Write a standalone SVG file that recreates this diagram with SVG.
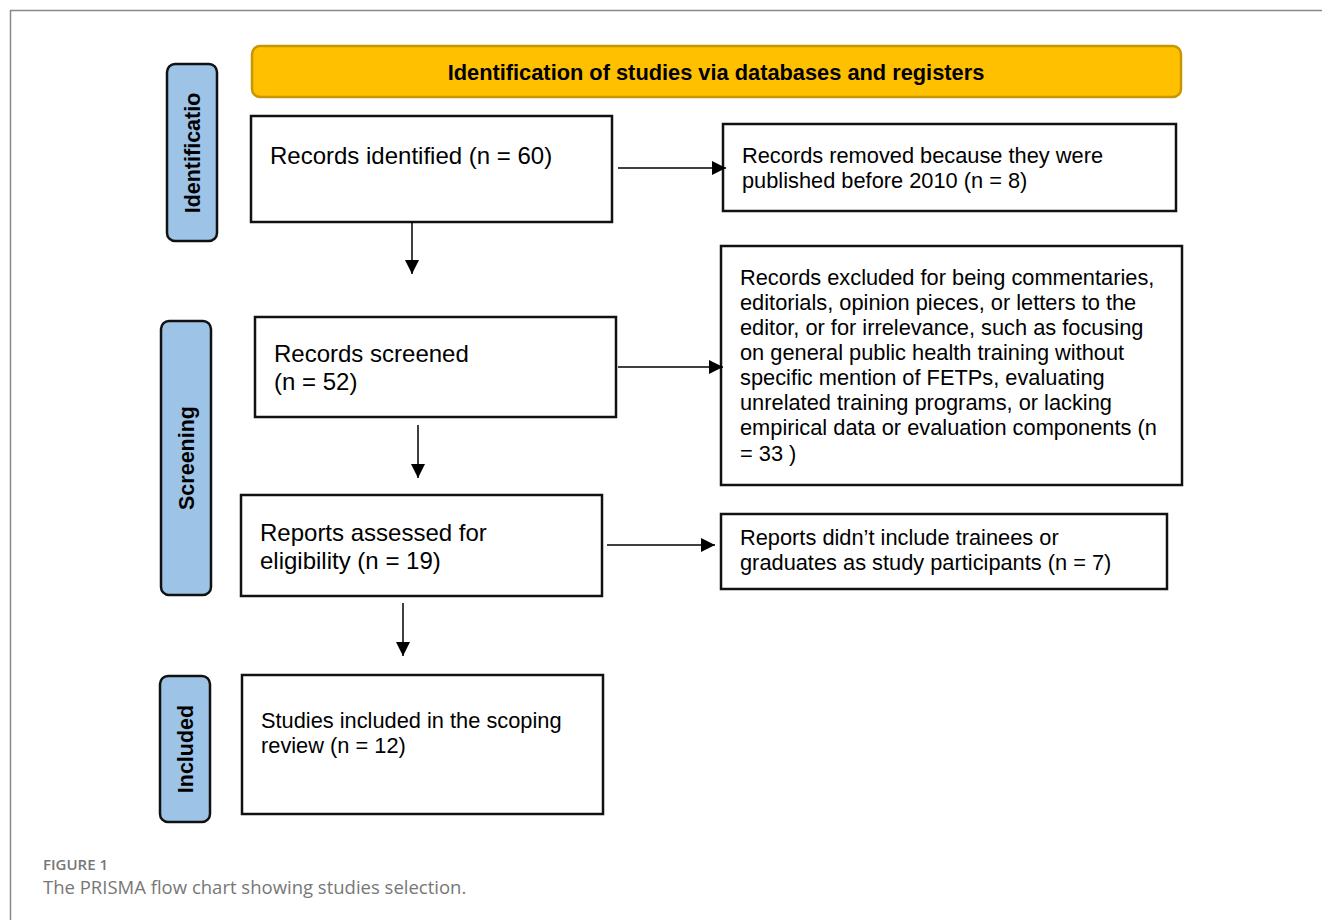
<svg xmlns="http://www.w3.org/2000/svg" width="1322" height="920" viewBox="0 0 1322 920">
<style>
.box{fill:#fff;stroke:#111;stroke-width:2.5}
.side{fill:#9DC3E6;stroke:#111;stroke-width:2.5}
.t{font-family:"Liberation Sans",Arial,sans-serif;fill:#000}
.big{font-size:24px}
.med{font-size:21.8px}
.sl{font-family:"Liberation Sans",Arial,sans-serif;font-size:21.5px;font-weight:bold;fill:#000;text-anchor:middle}
.conn{stroke:#000;stroke-width:1.5;fill:none;marker-end:url(#ah)}
.cap{font-family:"Open Sans",sans-serif;fill:#777}
</style>
<defs>
<marker id="ah" viewBox="0 0 10 10" refX="10" refY="5" markerWidth="14" markerHeight="14" markerUnits="userSpaceOnUse" orient="auto">
<path d="M0,0 L10,5 L0,10 z" fill="#000"/>
</marker>
</defs>
<rect width="1322" height="920" fill="#fff"/>
<g id="frame"><path d="M10.5,920 V10.5 H1322" fill="none" stroke="#888" stroke-width="1.5"/></g>

<g id="header">
<rect x="252" y="46" width="929" height="51" rx="8" fill="#FFC000" stroke="#C89600" stroke-width="2.5"/>
<text x="716" y="80" class="t" font-size="21.8" font-weight="bold" text-anchor="middle">Identification of studies via databases and registers</text>
</g>

<g id="side-identification">
<rect x="167" y="64" width="50" height="177" rx="8" class="side"/>
<text class="sl" transform="translate(200,153) rotate(-90)">Identificatio</text>
</g>
<g id="side-screening">
<rect x="161" y="321" width="50" height="274" rx="8" class="side"/>
<text class="sl" transform="translate(194,458) rotate(-90)">Screening</text>
</g>
<g id="side-included">
<rect x="160" y="676" width="50" height="146" rx="8" class="side"/>
<text class="sl" transform="translate(193,749) rotate(-90)">Included</text>
</g>

<g id="n-identified">
<rect x="251" y="116" width="361" height="106" class="box"/>
<text x="270" y="164" class="t big">Records identified (n = 60)</text>
</g>
<g id="n-removed">
<rect x="723" y="124" width="453" height="87" class="box"/>
<text class="t med"><tspan x="742" y="163">Records removed because they were</tspan><tspan x="742" y="188">published before 2010 (n = 8)</tspan></text>
</g>
<g id="n-screened">
<rect x="255" y="317" width="361" height="100" class="box"/>
<text class="t big"><tspan x="274" y="362">Records screened</tspan><tspan x="274" y="390">(n = 52)</tspan></text>
</g>
<g id="n-excluded">
<rect x="721" y="246" width="461" height="239" class="box"/>
<text class="t med"><tspan x="740" y="285">Records excluded for being commentaries,</tspan><tspan x="740" y="310">editorials, opinion pieces, or letters to the</tspan><tspan x="740" y="335">editor, or for irrelevance, such as focusing</tspan><tspan x="740" y="360">on general public health training without</tspan><tspan x="740" y="385">specific mention of FETPs, evaluating</tspan><tspan x="740" y="410">unrelated training programs, or lacking</tspan><tspan x="740" y="435">empirical data or evaluation components (n</tspan><tspan x="740" y="461">= 33 )</tspan></text>
</g>
<g id="n-assessed">
<rect x="241" y="495" width="361" height="101" class="box"/>
<text class="t big"><tspan x="260" y="541">Reports assessed for</tspan><tspan x="260" y="569">eligibility (n = 19)</tspan></text>
</g>
<g id="n-notincluded">
<rect x="721" y="514" width="446" height="75" class="box"/>
<text class="t med"><tspan x="740" y="545">Reports didn’t include trainees or</tspan><tspan x="740" y="570">graduates as study participants (n = 7)</tspan></text>
</g>
<g id="n-included">
<rect x="242" y="675" width="361" height="139" class="box"/>
<text class="t med"><tspan x="261" y="728">Studies included in the scoping</tspan><tspan x="261" y="753">review (n = 12)</tspan></text>
</g>

<g id="connectors">
<line x1="412" y1="222" x2="412" y2="274" class="conn"/>
<line x1="418" y1="425" x2="418" y2="478" class="conn"/>
<line x1="403" y1="603" x2="403" y2="656" class="conn"/>
<line x1="618" y1="168" x2="726" y2="168" class="conn"/>
<line x1="618" y1="367" x2="723" y2="367" class="conn"/>
<line x1="607" y1="545" x2="715" y2="545" class="conn"/>
</g>

<g id="caption">
<text x="43" y="870" class="cap" font-size="15" font-weight="600">FIGURE 1</text>
<text x="43" y="894" class="cap" font-size="18.5">The PRISMA flow chart showing studies selection.</text>
</g>
</svg>
